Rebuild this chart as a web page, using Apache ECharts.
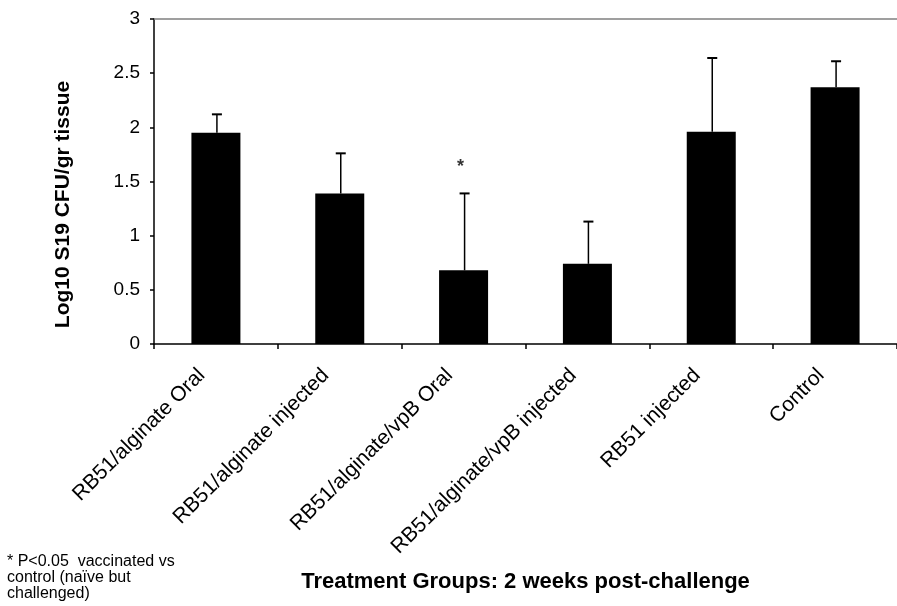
<!DOCTYPE html>
<html>
<head>
<meta charset="utf-8">
<script src="https://cdn.jsdelivr.net/npm/echarts@6/dist/echarts.min.js"></script>
<style>html,body{margin:0;padding:0;background:#fff;}#c{width:897px;height:606px;}</style>
</head>
<body>
<div id="c"></div>
<script>
var categories = ['RB51/alginate Oral', 'RB51/alginate injected', 'RB51/alginate/vpB Oral', 'RB51/alginate/vpB injected', 'RB51 injected', 'Control'];
var means = [1.95, 1.39, 0.68, 0.74, 1.96, 2.37];
var errors = [0.17, 0.37, 0.71, 0.39, 0.68, 0.24];
var yTicks = [0, 0.5, 1, 1.5, 2, 2.5, 3];
var significance = [null, null, 1.63, null, null, null];

var chart = echarts.init(document.getElementById('c'), null, {renderer: 'canvas'});
var errData = means.map(function (m, i) { return [i, m, m + errors[i]]; });
var sigData = [];
significance.forEach(function (v, i) { if (v !== null) sigData.push([i, v]); });

var font = 'Liberation Sans, Arial, sans-serif';
chart.setOption({
  animation: false,
  backgroundColor: '#fff',
  title: {
    text: '* P<0.05  vaccinated vs\ncontrol (naïve but\nchallenged)',
    left: 2, top: 549,
    textStyle: {fontFamily: font, fontSize: 16, fontWeight: 'normal', color: '#000', lineHeight: 16}
  },
  grid: {left: 154, right: -2, top: 19, bottom: 262},
  xAxis: [{
    type: 'category',
    data: categories,
    axisLine: {lineStyle: {color: '#000', width: 1.5}},
    axisTick: {show: true, length: 5, alignWithLabel: false, lineStyle: {color: '#000', width: 1.5}},
    axisLabel: {rotate: 45, margin: 14, padding: [0, 20, 0, 0], fontFamily: font, fontSize: 21, color: '#000', interval: 0},
    name: 'Treatment Groups: 2 weeks post-challenge',
    nameLocation: 'middle',
    nameGap: 227,
    nameTextStyle: {fontFamily: font, fontSize: 22, fontWeight: 'bold', color: '#000'}
  }, {
    type: 'category',
    position: 'top',
    data: categories,
    axisLine: {lineStyle: {color: '#808080', width: 1.5}},
    axisTick: {show: false},
    axisLabel: {show: false}
  }],
  yAxis: {
    type: 'value',
    min: 0, max: 3, interval: 0.5,
    axisLine: {show: true, lineStyle: {color: '#000', width: 1.5}},
    axisTick: {show: true, length: 4, lineStyle: {color: '#000', width: 1.5}},
    splitLine: {show: false},
    axisLabel: {margin: 14, fontFamily: font, fontSize: 19, color: '#000',
      formatter: function (v) { return String(v); }},
    name: 'Log10 S19 CFU/gr tissue',
    nameLocation: 'middle',
    nameGap: 80,
    nameTextStyle: {fontFamily: font, fontSize: 21, fontWeight: 'bold', color: '#000', padding: [0, 46, 0, 0]}
  },
  series: [{
    type: 'bar',
    data: means,
    barWidth: 49,
    itemStyle: {color: '#000'},
    z: 2
  }, {
    type: 'custom',
    data: errData,
    z: 3,
    renderItem: function (params, api) {
      var x = api.coord([api.value(0), api.value(1)]);
      var top = api.coord([api.value(0), api.value(2)]);
      var cx = x[0] + 1;
      return {
        type: 'group',
        children: [
          {type: 'line', shape: {x1: cx, y1: x[1], x2: cx, y2: top[1]}, style: {stroke: '#000', lineWidth: 1.5}},
          {type: 'line', shape: {x1: cx - 5, y1: top[1], x2: cx + 5, y2: top[1]}, style: {stroke: '#000', lineWidth: 2}}
        ]
      };
    }
  }, {
    type: 'scatter',
    data: sigData,
    symbolSize: 0,
    label: {show: true, formatter: '*', position: 'inside', offset: [-3, 0], fontFamily: font, fontSize: 18, fontWeight: 'bold', color: '#000'}
  }]
});
</script>
</body>
</html>
